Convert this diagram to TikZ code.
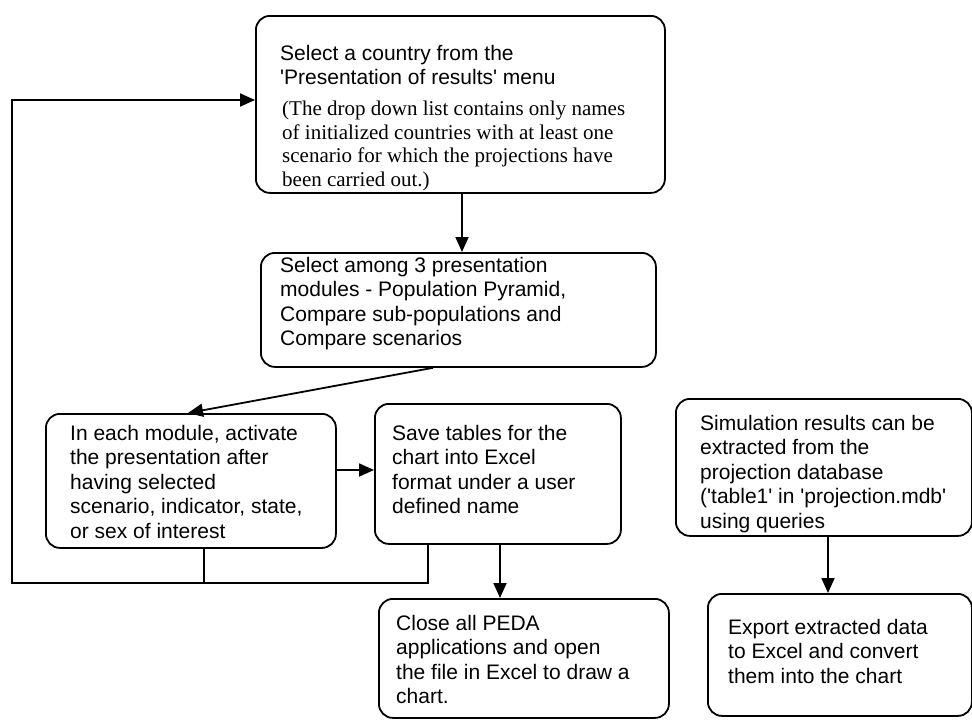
\documentclass[tikz,border=0pt]{standalone}
\usepackage{fontspec}
\setmainfont{Liberation Sans}
\newfontfamily\serifff{Liberation Serif}
\usetikzlibrary{arrows.meta}
\newcommand{\sq}{\textquotesingle}
\begin{document}
\begin{tikzpicture}[x=1pt,y=-1pt,
  box/.style={draw, line width=1.8pt, rounded corners=14pt, inner sep=0pt, anchor=north west},
  txt/.style={anchor=north west, inner sep=0pt, align=left, font=\fontsize{21}{24.5}\selectfont},
  stxt/.style={anchor=north west, inner sep=0pt, align=left, font=\serifff\fontsize{21}{23.6}\selectfont},
  arr/.style={line width=1.8pt, -{Triangle[length=15pt,width=13pt]}},
  ln/.style={line width=1.8pt}]
\useasboundingbox (0,0) rectangle (972,720);

% boxes
\node[box, minimum width=409pt, minimum height=177pt] (A) at (255,15) {};
\node[box, minimum width=395pt, minimum height=114pt] (B) at (260,252) {};
\node[box, minimum width=290pt, minimum height=134pt] (C) at (45,413) {};
\node[box, minimum width=246pt, minimum height=140pt] (D) at (374,403) {};
\node[box, minimum width=290pt, minimum height=119pt] (E) at (378,598) {};
\node[box, minimum width=296pt, minimum height=137pt] (F) at (675,398) {};
\node[box, minimum width=264pt, minimum height=122pt] (G) at (707,593) {};

% texts
\node[txt] (tA) at (280,45) {Select a country from the\\\sq Presentation of results\sq{} menu};
\node[stxt] (tAs) at (282,101) {(The drop down list contains only names\\of initialized countries with at least one\\scenario for which the projections have\\been carried out.)};
\node[txt] (tB) at (280,257) {Select among 3 presentation\\modules - Population Pyramid,\\Compare sub-populations and\\Compare scenarios};
\node[txt] (tC) at (70,425) {In each module, activate\\the presentation after\\having selected\\scenario, indicator, state,\\or sex of interest};
\node[txt] (tD) at (392,425) {Save tables for the\\chart into Excel\\format under a user\\defined name};
\node[txt] (tE) at (396,615) {Close all PEDA\\applications and open\\the file in Excel to draw a\\chart.};
\node[txt] (tF) at (700,415) {Simulation results can be\\extracted from the\\projection database\\(\sq table1\sq{} in \sq projection.mdb\sq\\using queries};
\node[txt] (tG) at (728,619) {Export extracted data\\to Excel and convert\\them into the chart};

% connectors
\coordinate (fbl) at (12,583);
\coordinate (fbt) at (12,100);
\draw[arr] ([xshift=207pt]A.south west) -- ([xshift=207pt]A.south west |- B.north);
\draw[arr] ([xshift=173pt]B.south west) -- ([xshift=143pt]C.north west);
\draw[arr] ([yshift=-57pt]C.north east) -- ([yshift=-57pt]C.north east -| D.west);
\draw[ln] ([xshift=159pt]C.south west) -- ([xshift=159pt]C.south west |- fbl);
\draw[arr] ([xshift=54pt]D.south west) |- (fbl) -- (fbt) -- (fbt -| A.west);
\draw[arr] ([xshift=126pt]D.south west) -- ([xshift=126pt]D.south west |- E.north);
\draw[arr] ([xshift=153pt]F.south west) -- ([xshift=153pt]F.south west |- G.north);
\end{tikzpicture}
\end{document}
